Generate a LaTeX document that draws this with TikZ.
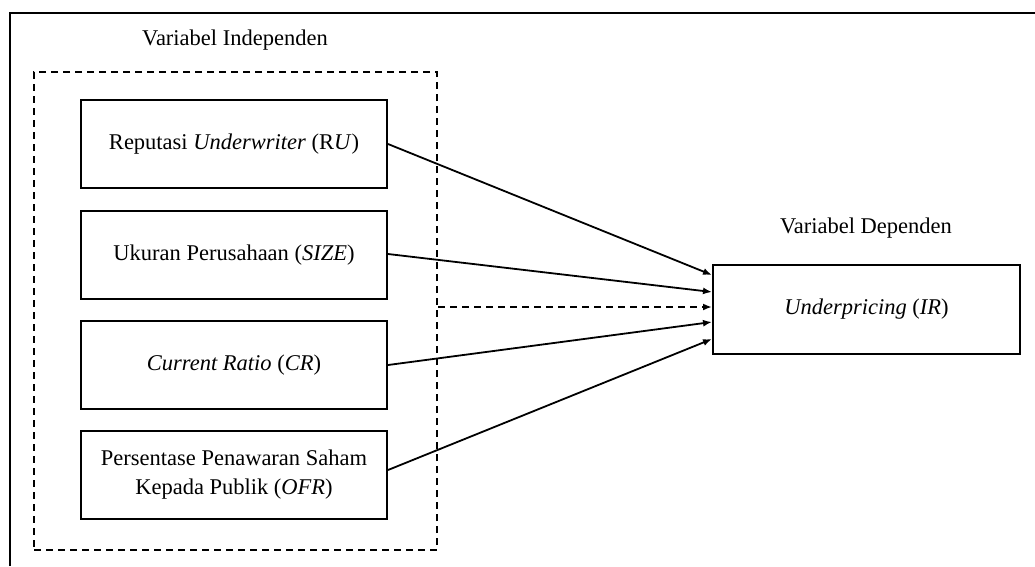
\documentclass[tikz,border=0pt]{standalone}
\usepackage{fontspec}
\setmainfont{Liberation Serif}
\usetikzlibrary{arrows.meta}
\begin{document}
\begin{tikzpicture}[x=1pt,y=-1pt,
  varbox/.style={draw,line width=2pt,minimum width=306pt,minimum height=88pt,
    align=center,font=\fontsize{22.5}{29}\selectfont,inner sep=0pt},
  lbl/.style={font=\fontsize{22.5}{27}\selectfont,inner sep=0pt},
  arr/.style={line width=1.8pt,-{Latex[length=9pt,width=7pt]}},
  dsh/.style={line width=2pt,dash pattern=on 7pt off 5pt}]
\useasboundingbox (0,0) rectangle (1035,566);
\draw[line width=2.4pt] (10,566) -- (10,13) -- (1035,13);
\node[dsh,draw,minimum width=403pt,minimum height=478pt,inner sep=0pt] (indep) at (235.5,311) {};
\node[lbl] (lind) at (235,40) {Variabel Independen};
\node[lbl] (ldep) at (866,228) {Variabel Dependen};
\node[varbox] (ru) at (234,144) {Reputasi \textit{Underwriter} (R\textit{U})};
\node[varbox] (size) at (234,255) {Ukuran Perusahaan (\textit{SIZE})};
\node[varbox] (cr) at (234,365) {\textit{Current Ratio} (\textit{CR})};
\node[varbox] (ofr) at (234,475) {Persentase Penawaran Saham\\Kepada Publik (\textit{OFR})};
\node[varbox,minimum width=307pt,minimum height=89pt] (ir) at (866.5,309.5) {\textit{Underpricing} (\textit{IR})};
\draw[arr] (ru.east) -- ([yshift=34.5pt]ir.west);
\draw[arr] ([yshift=1pt]size.east) -- ([yshift=17.5pt]ir.west);
\draw[arr,dsh] ([yshift=4pt]indep.east) -- ([yshift=2.5pt]ir.west);
\draw[arr] (cr.east) -- ([yshift=-12.5pt]ir.west);
\draw[arr] ([yshift=5pt]ofr.east) -- ([yshift=-29.5pt]ir.west);
\end{tikzpicture}
\end{document}
